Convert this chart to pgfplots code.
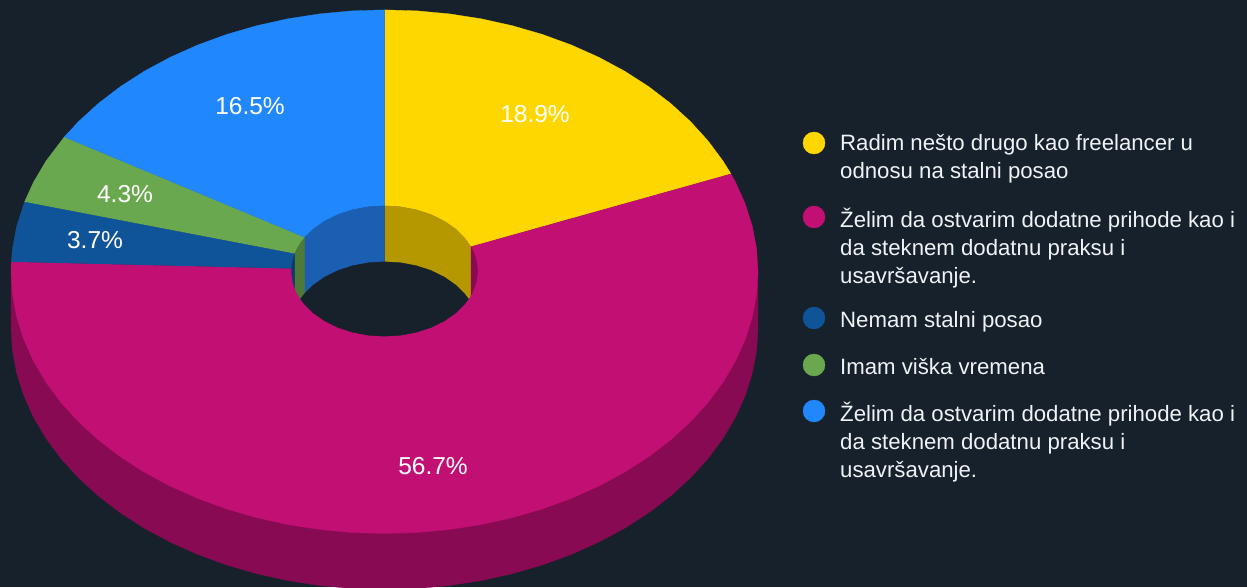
\documentclass[border=0pt]{standalone}
\usepackage{pgfplots}
\pgfplotsset{compat=1.18}
\usepackage{fontspec}
\setmainfont{Liberation Sans}
\definecolor{bg}{HTML}{16212B}
\definecolor{cy}{HTML}{FFD700}
\definecolor{cm}{HTML}{C10F74}
\definecolor{cn}{HTML}{0F5499}
\definecolor{cg}{HTML}{6AA84F}
\definecolor{cb}{HTML}{2187FD}
\definecolor{dy}{HTML}{B59800}
\definecolor{dm}{HTML}{880A52}
\definecolor{dn}{HTML}{0B3B6C}
\definecolor{dg}{HTML}{4D7A39}
\definecolor{db}{HTML}{1A5FB2}
\definecolor{txt}{HTML}{F0F3F5}
% t = position round the ring in degrees (shares 18.9, 56.7, 3.7, 4.3, 16.5 %), k = 1 outer / 0 inner rim, d = 1 lower face
\newcommand\PX{384.5+(\thisrow{k}*373.5+(1-\thisrow{k})*93)*sin(\thisrow{t})}
\newcommand\PY{316-0.7*\thisrow{k}+(\thisrow{k}*261.8+(1-\thisrow{k})*65.2)*cos(\thisrow{t})-56*\thisrow{d}}
\newcommand\slice[2]{\addplot[fill=#1,draw=#1,line width=0.3pt] table[row sep=\\,x expr=\PX,y expr=\PY]{t k d\\ #2};}
\begin{document}
\begin{tikzpicture}
\begin{axis}[
  width=1247pt,height=587pt,scale only axis,
  xmin=0,xmax=1247,ymin=0,ymax=587,
  hide axis,clip=true,
]
\addplot[fill=bg,draw=none] coordinates {(0,0)(1247,0)(1247,587)(0,587)};
% outer side wall
\slice{dm}{90 1 0\\95 1 0\\100 1 0\\110 1 0\\120 1 0\\130 1 0\\140 1 0\\150 1 0\\160 1 0\\170 1 0\\180 1 0\\190 1 0\\200 1 0\\210 1 0\\220 1 0\\230 1 0\\240 1 0\\250 1 0\\260 1 0\\270 1 0\\
270 1 1\\265 1 1\\260 1 1\\255 1 1\\250 1 1\\245 1 1\\240 1 1\\235 1 1\\230 1 1\\225 1 1\\220 1 1\\215 1 1\\210 1 1\\205 1 1\\200 1 1\\195 1 1\\190 1 1\\185 1 1\\180 1 1\\175 1 1\\170 1 1\\165 1 1\\160 1 1\\155 1 1\\150 1 1\\145 1 1\\140 1 1\\135 1 1\\130 1 1\\125 1 1\\120 1 1\\115 1 1\\110 1 1\\105 1 1\\100 1 1\\95 1 1\\90 1 1\\}
% top faces
\slice{cy}{0 1 0\\5 1 0\\10 1 0\\15 1 0\\20 1 0\\25 1 0\\30 1 0\\35 1 0\\40 1 0\\45 1 0\\50 1 0\\55 1 0\\60 1 0\\65 1 0\\68.04 1 0\\68.04 0 0\\60 0 0\\50 0 0\\40 0 0\\30 0 0\\20 0 0\\10 0 0\\0 0 0\\}
\slice{cm}{68.04 1 0\\70 1 0\\75 1 0\\80 1 0\\85 1 0\\90 1 0\\95 1 0\\100 1 0\\105 1 0\\110 1 0\\115 1 0\\120 1 0\\125 1 0\\130 1 0\\135 1 0\\140 1 0\\145 1 0\\150 1 0\\155 1 0\\160 1 0\\165 1 0\\170 1 0\\175 1 0\\180 1 0\\185 1 0\\190 1 0\\195 1 0\\200 1 0\\205 1 0\\210 1 0\\215 1 0\\220 1 0\\225 1 0\\230 1 0\\235 1 0\\240 1 0\\245 1 0\\250 1 0\\255 1 0\\260 1 0\\265 1 0\\270 1 0\\272.16 1 0\\
272.16 0 0\\260 0 0\\250 0 0\\240 0 0\\230 0 0\\220 0 0\\210 0 0\\200 0 0\\190 0 0\\180 0 0\\170 0 0\\160 0 0\\150 0 0\\140 0 0\\130 0 0\\120 0 0\\110 0 0\\100 0 0\\90 0 0\\80 0 0\\68.04 0 0\\}
\slice{cn}{272.16 1 0\\275 1 0\\280 1 0\\285.48 1 0\\285.48 0 0\\280 0 0\\272.16 0 0\\}
\slice{cg}{285.48 1 0\\290 1 0\\295 1 0\\300.96 1 0\\300.96 0 0\\295 0 0\\290 0 0\\285.48 0 0\\}
\slice{cb}{300.96 1 0\\305 1 0\\310 1 0\\315 1 0\\320 1 0\\325 1 0\\330 1 0\\335 1 0\\340 1 0\\345 1 0\\350 1 0\\355 1 0\\360 1 0\\360 0 0\\350 0 0\\340 0 0\\330 0 0\\320 0 0\\310 0 0\\300.96 0 0\\}
% hole: inner walls
\slice{dy}{0 0 0\\10 0 0\\20 0 0\\30 0 0\\40 0 0\\50 0 0\\60 0 0\\68.04 0 0\\111.96 0 0\\115.4 0 0\\64.6 0 1\\60 0 1\\50 0 1\\40 0 1\\30 0 1\\20 0 1\\10 0 1\\0 0 1\\}
\slice{dm}{68.04 0 0\\75 0 0\\80 0 0\\85 0 0\\90 0 0\\95 0 0\\100 0 0\\105 0 0\\111.96 0 0\\}
\slice{dm}{267.84 0 0\\270 0 0\\272.16 0 0\\}
\slice{dn}{272.16 0 0\\275 0 0\\280 0 0\\285.48 0 0\\254.52 0 0\\260 0 0\\267.84 0 0\\}
\slice{dg}{285.48 0 0\\290 0 0\\295 0 0\\300.96 0 0\\300.96 0 1\\295.4 0 1\\244.6 0 0\\250 0 0\\254.52 0 0\\}
\slice{db}{300.96 0 0\\310 0 0\\320 0 0\\330 0 0\\340 0 0\\350 0 0\\360 0 0\\360 0 1\\350 0 1\\340 0 1\\330 0 1\\320 0 1\\310 0 1\\300.96 0 1\\}
% hole: opening
\slice{bg}{295.4 0 1\\300 0 1\\310 0 1\\320 0 1\\330 0 1\\340 0 1\\350 0 1\\360 0 1\\10 0 1\\20 0 1\\30 0 1\\40 0 1\\50 0 1\\60 0 1\\64.6 0 1\\115.4 0 0\\120 0 0\\130 0 0\\140 0 0\\150 0 0\\160 0 0\\170 0 0\\180 0 0\\190 0 0\\200 0 0\\210 0 0\\220 0 0\\230 0 0\\240 0 0\\244.6 0 0\\}
% legend markers
\addplot[only marks,mark=*,mark size=11pt,color=cy] coordinates {(814,444)};
\addplot[only marks,mark=*,mark size=11pt,color=cm] coordinates {(814,370)};
\addplot[only marks,mark=*,mark size=11pt,color=cn] coordinates {(814,269)};
\addplot[only marks,mark=*,mark size=11pt,color=cg] coordinates {(814,222)};
\addplot[only marks,mark=*,mark size=11pt,color=cb] coordinates {(814,176)};
% data labels
\begin{scope}[every node/.style={text=white,font=\fontsize{24.5}{28}\selectfont,inner sep=0pt}]
\node at (axis cs:535,473) {18.9\%};
\node at (axis cs:250,481) {16.5\%};
\node at (axis cs:125,393) {4.3\%};
\node at (axis cs:95,347) {3.7\%};
\node at (axis cs:433,121) {56.7\%};
\end{scope}
% legend text
\begin{scope}[every node/.style={text=txt,anchor=west,align=left,inner sep=0pt,font=\fontsize{22.2}{28}\selectfont}]
\node at (axis cs:840,428) {Radim nešto drugo kao freelancer u\\odnosu na stalni posao};
\node at (axis cs:840,339) {Želim da ostvarim dodatne prihode kao i\\da steknem dodatnu praksu i\\usavršavanje.};
\node at (axis cs:840,265) {Nemam stalni posao};
\node at (axis cs:840,220) {Imam viška vremena};
\node at (axis cs:840,145) {Želim da ostvarim dodatne prihode kao i\\da steknem dodatnu praksu i\\usavršavanje.};
\end{scope}
\end{axis}
\end{tikzpicture}
\end{document}
